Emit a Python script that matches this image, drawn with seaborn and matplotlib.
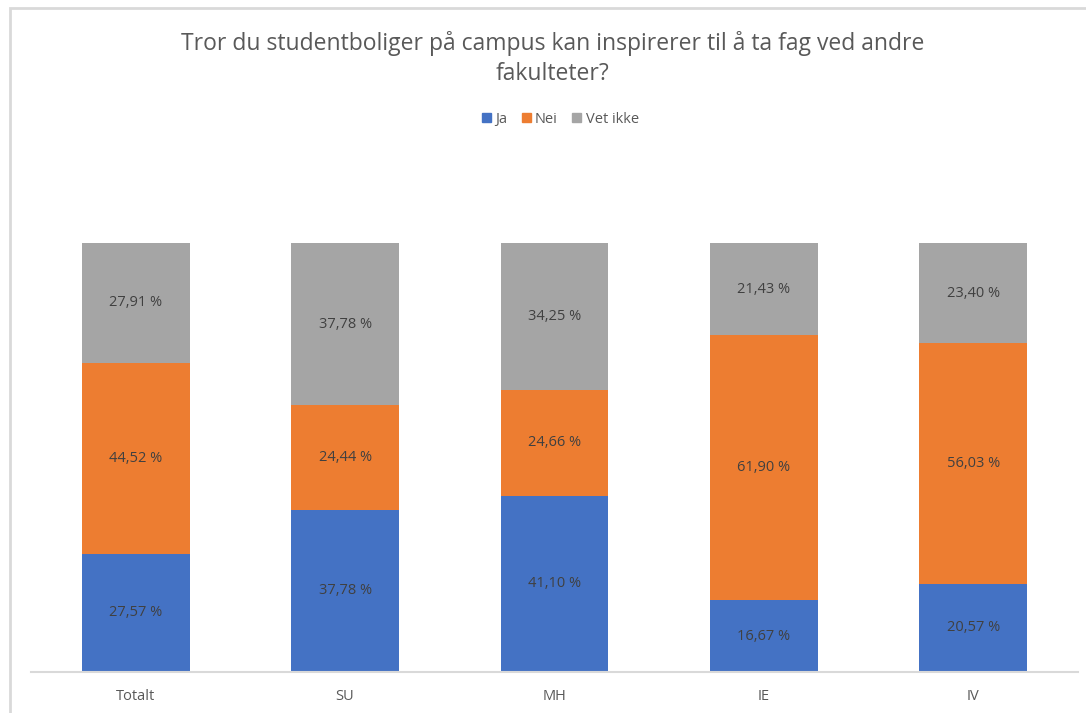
import pandas as pd
import seaborn as sns
import matplotlib.pyplot as plt
from matplotlib.patches import Rectangle

# data (percent)
groups = ['Totalt', 'SU', 'MH', 'IE', 'IV']
ja = [27.57, 37.78, 41.10, 16.67, 20.57]
nei = [44.52, 24.44, 24.66, 61.90, 56.03]
vet_ikke = [27.91, 37.78, 34.25, 21.43, 23.40]

series = ['Ja', 'Nei', 'Vet ikke']
colors = ['#4472C4', '#ED7D31', '#A5A5A5']

sns.set_style('white')
plt.rcParams['font.family'] = ['Open Sans', 'DejaVu Sans']

df = pd.DataFrame({'group': groups, 'Ja': ja, 'Nei': nei, 'Vet ikke': vet_ikke})
df['top_ja'] = df['Ja']
df['top_nei'] = df['Ja'] + df['Nei']
df['top_vet'] = df['top_nei'] + df['Vet ikke']

fig = plt.figure(figsize=(10.86, 7.13), dpi=100)
ax = fig.add_axes([31 / 1086, 41 / 713, 1047 / 1086, 429 / 713])

# stacked bars drawn back-to-front
for col, c in zip(['top_vet', 'top_nei', 'top_ja'], colors[::-1]):
    sns.barplot(data=df, x='group', y=col, color=c, width=0.515,
                saturation=1, ax=ax, linewidth=0)

ax.set_ylim(0, df['top_vet'].max())
ax.set_xlim(-0.5, 4.5)

# segment labels
for i, row in df.iterrows():
    bottom = 0
    for s in series:
        v = row[s]
        ax.text(i, bottom + v / 2, f'{v:.2f} %'.replace('.', ','),
                ha='center', va='center', fontsize=10.5, color='#404040')
        bottom += v

ax.set_xlabel('')
ax.set_ylabel('')
ax.set_yticks([])
ax.tick_params(axis='x', length=0, pad=12, labelsize=10.5, labelcolor='#595959')
for side in ['top', 'right', 'left']:
    ax.spines[side].set_visible(False)
ax.spines['bottom'].set_color('#d9d9d9')
ax.spines['bottom'].set_linewidth(1.5)

fig.text(0.509, 0.918, 'Tror du studentboliger på campus kan inspirerer til å ta fag ved andre\nfakulteter?',
         ha='center', va='center', fontsize=16.5, color='#595959', linespacing=1.3)

handles = [Rectangle((0, 0), 1, 1, color=c) for c in colors]
fig.legend(handles, series, loc='center', bbox_to_anchor=(0.516, 0.833), ncol=3,
           frameon=False, fontsize=10.5, labelcolor='#595959', handlelength=0.6,
           handleheight=0.6, handletextpad=0.3, columnspacing=1.0)

# chart area border
fig.add_artist(Rectangle((10 / 1086, -0.1), 1.2, 1 - 8 / 713 + 0.1,
                         transform=fig.transFigure, fill=False,
                         edgecolor='#d9d9d9', linewidth=2))

fig.savefig('out.png', dpi=100)
